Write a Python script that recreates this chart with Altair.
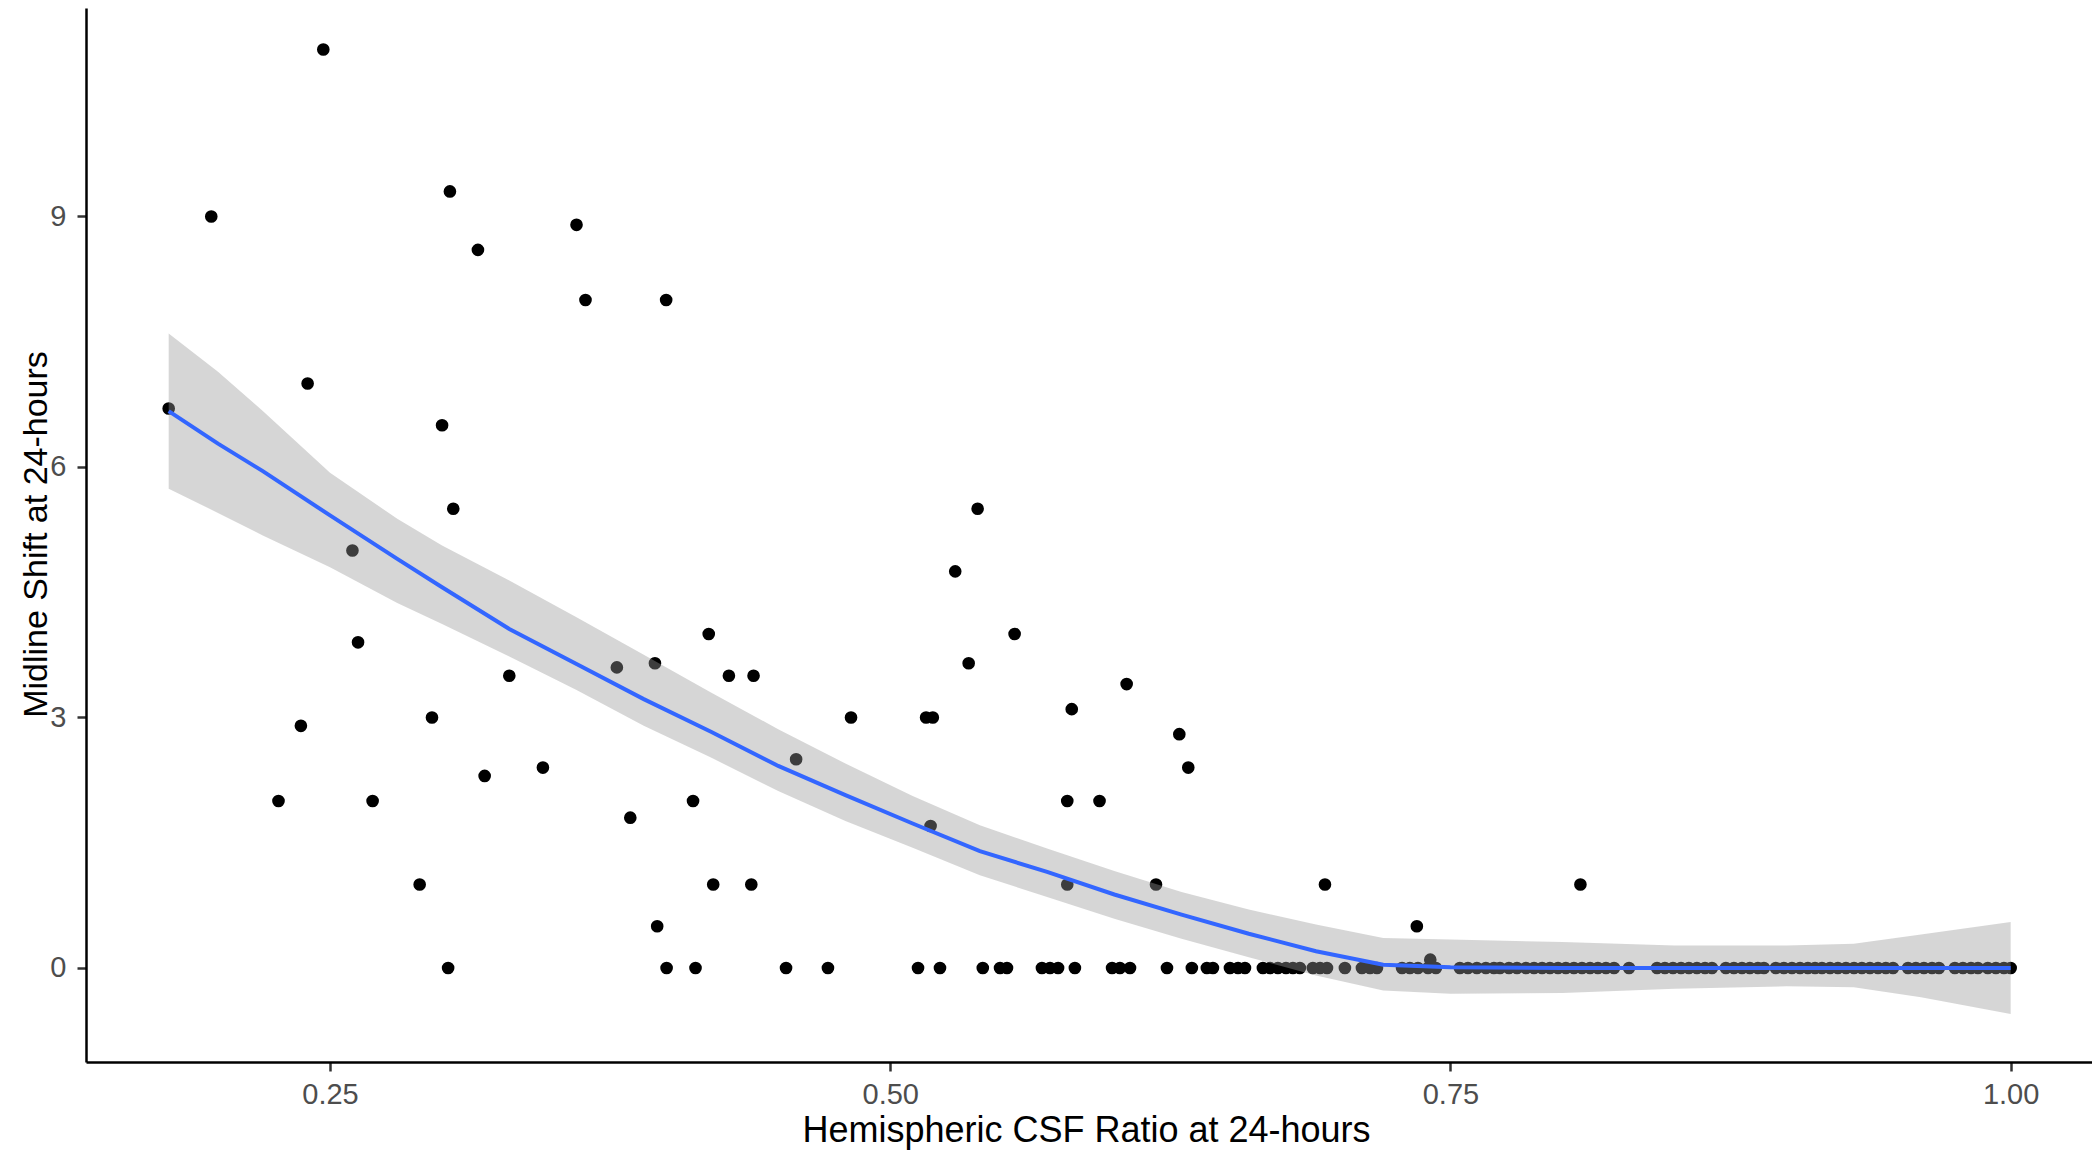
import altair as alt
import pandas as pd

# ---- scatter points (non-zero midline shift) ----
pt_x = [0.178, 0.197, 0.227, 0.237, 0.240, 0.247, 0.260, 0.2625, 0.269, 0.290,
        0.2955, 0.300, 0.3035, 0.305, 0.316, 0.319, 0.330, 0.345, 0.360, 0.364,
        0.378, 0.384, 0.395, 0.396, 0.400, 0.412, 0.419, 0.421, 0.428, 0.438,
        0.439, 0.458, 0.4825, 0.516, 0.519, 0.518, 0.529, 0.535, 0.539, 0.5555,
        0.579, 0.579, 0.581, 0.5934, 0.6055, 0.6186, 0.629, 0.633, 0.694, 0.735,
        0.741, 0.808]
pt_y = [6.7, 9.0, 2.0, 2.9, 7.0, 11.0, 5.0, 3.9, 2.0, 1.0,
        3.0, 6.5, 9.3, 5.5, 8.6, 2.3, 3.5, 2.4, 8.9, 8.0,
        3.6, 1.8, 3.65, 0.5, 8.0, 2.0, 4.0, 1.0, 3.5, 1.0,
        3.5, 2.5, 3.0, 3.0, 3.0, 1.7, 4.75, 3.65, 5.5, 4.0,
        1.0, 2.0, 3.1, 2.0, 3.4, 1.0, 2.8, 2.4, 1.0, 0.5,
        0.1, 1.0]

# ---- scatter points with zero midline shift ----
zero_x = [0.3027, 0.4002, 0.4131, 0.4535, 0.4722, 0.5124, 0.5222, 0.5413, 0.5490, 0.5521,
          0.5677, 0.5713, 0.5749, 0.5824, 0.5990, 0.6025, 0.6070, 0.6235, 0.6346, 0.6413,
          0.6440, 0.6516, 0.6552, 0.6583, 0.6663, 0.6695, 0.6730, 0.6766, 0.6797, 0.6828,
          0.6886, 0.6918, 0.6949, 0.7029, 0.7105, 0.7141, 0.7172, 0.7284, 0.7319, 0.7355,
          0.7400, 0.7435, 0.7542, 0.7578, 0.7618, 0.7658, 0.7694, 0.7721, 0.7761, 0.7797,
          0.7837, 0.7873, 0.7909, 0.7944, 0.7980, 0.8015, 0.8051, 0.8087, 0.8123, 0.8158,
          0.8194, 0.8230, 0.8297, 0.8422, 0.8457, 0.8493, 0.8529, 0.8564, 0.8600, 0.8636,
          0.8667, 0.8729, 0.8765, 0.8801, 0.8836, 0.8872, 0.8899, 0.8952, 0.8988, 0.9024,
          0.9060, 0.9095, 0.9127, 0.9158, 0.9194, 0.9229, 0.9265, 0.9301, 0.9336, 0.9372,
          0.9408, 0.9443, 0.9475, 0.9542, 0.9577, 0.9613, 0.9649, 0.9680, 0.9751, 0.9787,
          0.9823, 0.9854, 0.9898, 0.9934, 0.9970, 1.0]

# ---- loess smooth with confidence band ----
sm_x = [0.178, 0.20, 0.22, 0.25, 0.28, 0.30, 0.33, 0.36, 0.39, 0.42,
        0.45, 0.48, 0.51, 0.54, 0.57, 0.60, 0.63, 0.66, 0.69, 0.72,
        0.75, 0.80, 0.85, 0.90, 0.93, 0.96, 1.00]
sm_y = [6.67, 6.28, 5.95, 5.42, 4.90, 4.56, 4.06, 3.64, 3.22, 2.83,
        2.42, 2.07, 1.73, 1.40, 1.15, 0.88, 0.64, 0.41, 0.20, 0.04,
        0.01, 0.0, 0.0, 0.0, 0.0, 0.0, 0.0]
sm_hi = [7.60, 7.14, 6.67, 5.93, 5.38, 5.06, 4.64, 4.20, 3.75, 3.30,
         2.86, 2.45, 2.06, 1.71, 1.43, 1.16, 0.91, 0.70, 0.52, 0.36,
         0.34, 0.31, 0.27, 0.27, 0.29, 0.40, 0.55]
sm_lo = [5.74, 5.45, 5.18, 4.80, 4.37, 4.12, 3.73, 3.33, 2.90, 2.52,
         2.12, 1.76, 1.44, 1.11, 0.85, 0.59, 0.35, 0.13, -0.09, -0.27,
         -0.31, -0.30, -0.25, -0.22, -0.23, -0.35, -0.55]

x_ticks = [0.25, 0.50, 0.75, 1.00]
y_ticks = [0, 3, 6, 9]

points = pd.DataFrame({"x": pt_x + zero_x, "y": pt_y + [0.0] * len(zero_x)})
smooth = pd.DataFrame({"x": sm_x, "y": sm_y, "lo": sm_lo, "hi": sm_hi})

FONT = "Liberation Sans"
xscale = alt.Scale(domain=[0.1411, 1.0363], nice=False, zero=False)
yscale = alt.Scale(domain=[-1.126, 11.497], nice=False, zero=False)

xaxis = alt.Axis(values=x_ticks, format=".2f", title="Hemispheric CSF Ratio at 24-hours",
                 grid=False, labelPadding=9, titleX=1000, titleY=79,
                 titleBaseline="alphabetic", titleAlign="center")
yaxis = alt.Axis(values=y_ticks, format="d", title="Midline Shift at 24-hours",
                 grid=False, labelPadding=11, titleX=-40, titleY=526,
                 titleBaseline="alphabetic", titleAlign="center", titleAngle=270,
                 titleFontSize=34)

pts = alt.Chart(points).mark_circle(size=160, color="black", opacity=1).encode(
    x=alt.X("x:Q", scale=xscale, axis=xaxis),
    y=alt.Y("y:Q", scale=yscale, axis=yaxis),
)

band = alt.Chart(smooth).mark_area(color="#999999", opacity=0.4).encode(
    x=alt.X("x:Q", scale=xscale),
    y=alt.Y("lo:Q", scale=yscale),
    y2="hi:Q",
)

line = alt.Chart(smooth).mark_line(color="#3366FF", strokeWidth=4).encode(
    x=alt.X("x:Q", scale=xscale),
    y=alt.Y("y:Q", scale=yscale),
)

chart = alt.layer(pts, band, line).properties(
    width=2006,
    height=1054,
    autosize=alt.AutoSizeParams(type="none"),
    padding={"left": 78, "top": 0, "right": 0, "bottom": 88},
    background="white",
).configure_view(
    stroke=None
).configure_axis(
    domainColor="black",
    domainWidth=2.5,
    tickColor="#333333",
    tickWidth=2.5,
    tickSize=9,
    labelColor="#4D4D4D",
    labelFont=FONT,
    labelFontSize=29,
    titleFont=FONT,
    titleFontSize=36,
    titleFontWeight="normal",
    titleColor="black",
)

chart.save("out.html", embed_options={"renderer": "svg", "actions": False})
